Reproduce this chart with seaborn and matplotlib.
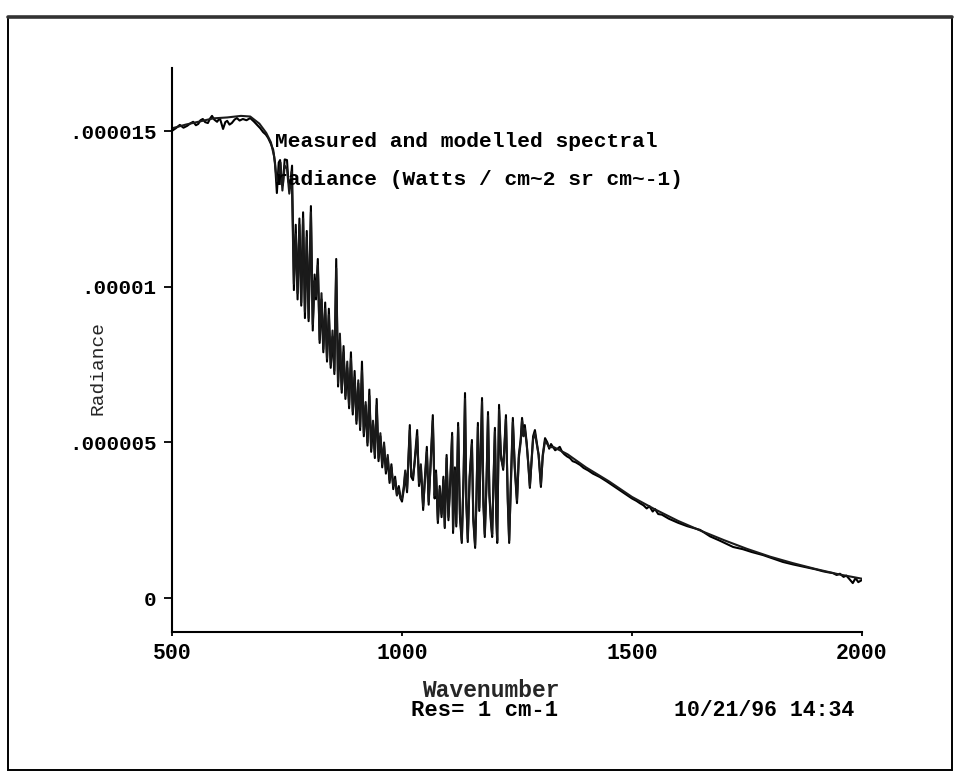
import numpy as np
import pandas as pd
import matplotlib
matplotlib.use("Agg")
import matplotlib.pyplot as plt
import seaborn as sns
from matplotlib.patches import Rectangle
from matplotlib.lines import Line2D

# Measured spectral radiance, in units of 1e-6 W / cm^2 sr cm^-1
meas_wn = [
    500, 508, 517, 525, 533, 540, 546, 552, 557, 562, 567, 572, 578, 583, 587,
    592, 598, 604, 611, 616, 620, 625, 630, 636, 641, 647, 654, 662, 670, 678,
    685, 692, 698, 704, 709, 715, 720, 724, 728, 732, 735, 738, 741, 745, 750,
    753, 757, 761, 765, 769, 773, 777, 781, 785, 789, 793, 797, 802, 806, 810,
    813, 817, 821, 825, 829, 833, 837, 841, 845, 849, 853, 857, 861, 865, 869,
    873, 877, 881, 885, 889, 893, 897, 901, 905, 909, 913, 917, 921, 925, 929,
    933, 937, 941, 945, 949, 953, 957, 961, 965, 969, 973, 977, 981, 985, 989,
    993, 997, 1000, 1004, 1007, 1011, 1017, 1020, 1024, 1028, 1033, 1037, 1041,
    1046, 1050, 1054, 1058, 1062, 1067, 1071, 1074, 1078, 1082, 1086, 1090,
    1093, 1097, 1101, 1105, 1109, 1111, 1115, 1118, 1122, 1126, 1130, 1134,
    1137, 1140, 1143, 1147, 1152, 1155, 1159, 1162, 1165, 1168, 1171, 1174,
    1177, 1180, 1184, 1187, 1190, 1193, 1196, 1199, 1202, 1205, 1207, 1211,
    1215, 1220, 1223, 1226, 1230, 1233, 1237, 1241, 1245, 1250, 1254, 1258,
    1261, 1264, 1267, 1271, 1275, 1278, 1282, 1285, 1289, 1293, 1297, 1302,
    1306, 1311, 1316, 1320, 1324, 1328, 1333, 1338, 1343, 1348, 1353, 1359,
    1365, 1371, 1378, 1387, 1395, 1405, 1415, 1430, 1445, 1460, 1475, 1490,
    1500, 1510, 1517, 1525, 1532, 1538, 1545, 1550, 1557, 1565, 1580, 1600,
    1620, 1648, 1670, 1690, 1720, 1741, 1760, 1785, 1810, 1828, 1850, 1875,
    1900, 1915, 1925, 1937, 1945, 1952, 1960, 1966, 1972, 1980, 1986, 1992, 2000,
]
meas_rad = [
    15.02, 15.10, 15.21, 15.12, 15.18, 15.26, 15.31, 15.20, 15.24, 15.36, 15.40, 15.30, 15.27, 15.42, 15.50,
    15.38, 15.31, 15.43, 15.08, 15.30, 15.34, 15.22, 15.27, 15.38, 15.43, 15.35, 15.40, 15.36, 15.43, 15.32,
    15.21, 15.10, 14.98, 14.90, 14.79, 14.60, 14.41, 13.99, 13.02, 14.00, 14.08, 13.30, 13.28, 14.10, 14.08,
    13.40, 13.22, 13.90, 9.90, 12.00, 9.60, 12.20, 9.40, 12.40, 9.00, 11.80, 8.90, 12.60, 8.60, 10.40,
    9.60, 10.90, 8.20, 9.60, 7.90, 9.50, 7.60, 9.30, 7.40, 8.40, 7.20, 10.90, 6.80, 8.30, 6.60,
    8.10, 6.40, 7.40, 6.10, 7.90, 5.90, 7.30, 5.60, 6.90, 5.40, 7.60, 5.20, 6.20, 4.90, 6.70,
    4.70, 5.60, 4.50, 6.40, 4.40, 5.20, 4.20, 4.90, 4.00, 4.50, 3.70, 4.30, 3.50, 3.90, 3.30,
    3.60, 3.20, 3.10, 3.50, 4.00, 3.40, 5.56, 3.90, 3.79, 4.50, 5.40, 3.60, 4.20,
    2.83, 3.90, 4.86, 3.00, 4.30, 5.88, 3.20, 4.10, 2.41, 3.60, 2.60, 3.90,
    2.25, 4.60, 2.50, 3.80, 5.31, 2.09, 4.20, 2.30, 5.63, 2.60, 1.77, 4.00,
    6.59, 3.00, 1.80, 3.90, 5.08, 2.50, 1.61, 3.20, 5.63, 2.80, 4.60, 6.43,
    3.00, 1.96, 3.90, 5.98, 3.30, 2.50, 1.96, 3.80, 5.47, 2.60, 1.77, 6.21,
    4.60, 4.12, 5.00, 5.88, 3.10, 1.77, 3.90, 5.79, 4.20, 3.05, 4.60, 5.10,
    5.79, 5.30, 5.56, 5.00, 4.20, 3.54, 4.50, 5.20, 5.40, 5.00, 4.60, 3.57,
    4.60, 5.14, 5.00, 4.80, 4.95, 4.86, 4.75, 4.80, 4.86, 4.70, 4.62, 4.55,
    4.50, 4.40, 4.36, 4.28, 4.18, 4.10, 4.00, 3.89, 3.75, 3.60, 3.45, 3.30,
    3.20, 3.12, 3.05, 2.98, 2.88, 2.95, 2.78, 2.86, 2.70, 2.68, 2.55, 2.42,
    2.31, 2.19, 1.98, 1.85, 1.64, 1.57, 1.48, 1.38, 1.25, 1.16, 1.08, 1.00,
    0.92, 0.86, 0.83, 0.80, 0.74, 0.78, 0.68, 0.72, 0.62, 0.48, 0.64, 0.51, 0.58,
]

# Modelled spectral radiance, same units
model_wn = [
    500, 530, 560, 590, 620, 650, 670, 690, 705, 715, 722, 728, 732, 736, 740,
    745, 750, 755, 760, 765, 769, 773, 777, 781, 785, 789, 793, 797, 802, 806,
    810, 813, 817, 821, 825, 829, 833, 837, 841, 845, 849, 853, 857, 861, 865,
    869, 873, 877, 881, 885, 889, 893, 897, 901, 905, 909, 913, 917, 921, 925,
    929, 933, 937, 941, 945, 949, 953, 957, 961, 965, 969, 973, 977, 981, 985,
    989, 993, 997, 1000, 1004, 1007, 1011, 1017, 1020, 1024, 1028, 1033, 1037,
    1041, 1046, 1050, 1054, 1058, 1062, 1067, 1071, 1074, 1078, 1082, 1086,
    1090, 1093, 1097, 1101, 1105, 1109, 1111, 1115, 1118, 1122, 1126, 1130,
    1134, 1137, 1140, 1143, 1147, 1152, 1155, 1159, 1162, 1165, 1168, 1171,
    1174, 1177, 1180, 1184, 1187, 1190, 1193, 1196, 1199, 1202, 1205, 1207,
    1211, 1215, 1220, 1223, 1226, 1230, 1233, 1237, 1241, 1245, 1250, 1254,
    1258, 1261, 1264, 1267, 1271, 1275, 1278, 1282, 1285, 1289, 1293, 1297,
    1302, 1306, 1311, 1316, 1320, 1330, 1360, 1400, 1450, 1500, 1550, 1600,
    1650, 1700, 1750, 1800, 1850, 1900, 1950, 2000,
]
model_rad = [
    15.10, 15.22, 15.32, 15.42, 15.45, 15.50, 15.48, 15.25, 14.95, 14.65, 14.20, 13.40, 13.60, 14.00, 13.10,
    13.90, 13.80, 13.00, 13.70, 10.10, 11.70, 9.80, 12.00, 9.50, 12.20, 9.20, 11.60, 9.00, 12.40, 8.80,
    10.20, 9.70, 10.70, 8.30, 9.80, 8.00, 9.30, 7.70, 9.10, 7.50, 8.60, 7.30, 10.60, 6.90, 8.50,
    6.70, 7.90, 6.50, 7.60, 6.20, 7.70, 6.00, 7.10, 5.70, 7.00, 5.50, 7.30, 5.30, 6.30, 5.00,
    6.50, 4.80, 5.70, 4.60, 6.20, 4.50, 5.30, 4.30, 5.00, 4.10, 4.60, 3.80, 4.20, 3.60, 3.80,
    3.30, 3.50, 3.20, 3.20, 3.60, 4.10, 3.50, 5.40, 4.00, 3.90, 4.40, 5.20, 3.70,
    4.30, 2.95, 3.80, 4.70, 3.10, 4.20, 5.70, 3.30, 4.00, 2.50, 3.50, 2.70,
    3.80, 2.30, 4.50, 2.60, 3.70, 5.20, 2.20, 4.10, 2.40, 5.50, 2.70, 1.85,
    3.90, 6.40, 3.10, 1.90, 3.80, 4.95, 2.60, 1.70, 3.30, 5.50, 2.90, 4.50,
    6.30, 3.10, 2.05, 3.80, 5.85, 3.40, 2.60, 2.05, 3.70, 5.35, 2.70, 1.85,
    6.05, 4.50, 4.20, 4.90, 5.75, 3.20, 1.85, 3.80, 5.65, 4.30, 3.15, 4.50,
    5.00, 5.70, 5.20, 5.45, 4.95, 4.25, 3.60, 4.45, 5.10, 5.30, 4.95, 4.60,
    3.65, 4.55, 5.05, 4.95, 4.85, 4.85, 4.62, 4.20, 3.75, 3.25, 2.85, 2.48,
    2.16, 1.86, 1.58, 1.33, 1.12, 0.93, 0.76, 0.62,
]

x_ticks = [500, 1000, 1500, 2000]
y_ticks = [0, 5e-6, 1e-5, 1.5e-5]
y_tick_labels = ["0", ".000005", ".00001", ".000015"]

title_lines = ["Measured and modelled spectral",
               "radiance (Watts / cm~2 sr cm~-1)"]

df = pd.concat([
    pd.DataFrame({"wavenumber": meas_wn,
                  "radiance": np.array(meas_rad) * 1e-6,
                  "series": "measured"}),
    pd.DataFrame({"wavenumber": model_wn,
                  "radiance": np.array(model_rad) * 1e-6,
                  "series": "modelled"}),
], ignore_index=True)

sns.set_theme(style="white")
plt.rcParams["font.family"] = ["Liberation Mono", "DejaVu Sans Mono"]
plt.rcParams["font.weight"] = "bold"
plt.rcParams["text.color"] = "black"

fig = plt.figure(figsize=(9.55, 7.77), dpi=100)
fig.patch.set_facecolor("white")
ax = fig.add_axes([0.1801, 0.1866, 0.7225, 0.7259])

sns.lineplot(data=df, x="wavenumber", y="radiance", hue="series",
             palette={"measured": "black", "modelled": "#1a1a1a"},
             estimator=None, legend=False, linewidth=1.5, ax=ax)

ax.set_xlim(500, 2000)
ax.set_ylim(-1.093e-6, 17.04e-6)
ax.set_xticks(x_ticks)
ax.set_xticklabels([str(t) for t in x_ticks])
ax.set_yticks(y_ticks)
ax.set_yticklabels(y_tick_labels)

sns.despine(ax=ax, top=True, right=True)
for side in ("left", "bottom"):
    ax.spines[side].set_color("black")
    ax.spines[side].set_linewidth(1.5)

ax.tick_params(axis="y", direction="out", length=6, width=1.3, pad=5,
               colors="black", labelsize=15, left=True)
ax.tick_params(axis="x", direction="out", length=3, width=1.3, pad=5,
               colors="black", labelsize=15.5, bottom=True)
for lab in ax.get_xticklabels() + ax.get_yticklabels():
    lab.set_fontweight("bold")

ax.set_xlabel("Wavenumber", fontsize=16.5, fontweight="bold")
ax.xaxis.set_label_coords((491 - 172) / 690, (632 - 690) / 564)
ax.xaxis.label.set_va("center")
ax.set_ylabel("Radiance", fontsize=14, fontweight="normal", va="center")
ax.yaxis.set_label_coords((98 - 172) / 690, (632 - 368) / 564)

ax.text((275 - 172) / 690, (632 - 142) / 564, title_lines[0],
        transform=ax.transAxes, ha="left", va="center",
        fontsize=15.3, fontweight="bold")
ax.text((275 - 172) / 690, (632 - 180) / 564, title_lines[1],
        transform=ax.transAxes, ha="left", va="center",
        fontsize=15.3, fontweight="bold")

fig.text(485 / 955, 1 - 710 / 777, "Res= 1 cm-1", ha="center", va="center",
         fontsize=16, fontweight="bold")
fig.text(674 / 955, 1 - 710 / 777, "10/21/96 14:34", ha="left", va="center",
         fontsize=15.5, fontweight="bold")

# Outer frame around the whole plot
fig.add_artist(Rectangle((8 / 955, 1 - 770 / 777), 944 / 955, 753 / 777,
                         transform=fig.transFigure, fill=False,
                         edgecolor="black", linewidth=1.4))
fig.add_artist(Line2D([8 / 955, 952 / 955], [1 - 17 / 777, 1 - 17 / 777],
                      transform=fig.transFigure, color="#333333", linewidth=2.6))

fig.savefig("out.png", dpi=100, facecolor="white")
